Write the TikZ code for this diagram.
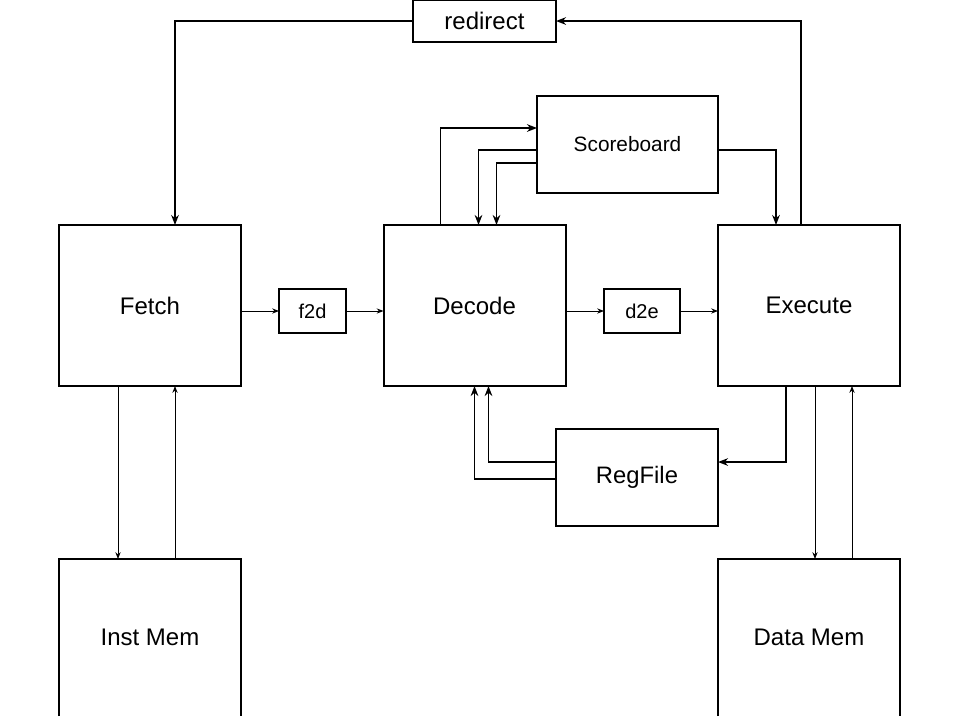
\documentclass[tikz,border=0pt]{standalone}
\usepackage{fontspec}
\setmainfont{Liberation Sans}
\usetikzlibrary{arrows.meta}

\begin{document}
\begin{tikzpicture}[
        x=0.5pt, y=-0.5pt,
        stagebox/.style={rectangle,draw,line width=1pt,inner sep=0pt,outer sep=0pt,minimum width=91pt,minimum height=80.5pt,font=\fontsize{12}{14}\selectfont},
        unitbox/.style={rectangle,draw,line width=1pt,inner sep=0pt,outer sep=0pt,minimum width=81pt,minimum height=48.5pt,font=\fontsize{10.4}{12}\selectfont},
        latchbox/.style={rectangle,draw,line width=1pt,inner sep=0pt,outer sep=0pt,minimum height=22pt,font=\fontsize{10}{12}\selectfont},
        membox/.style={rectangle,inner sep=0pt,outer sep=0pt,minimum width=91pt,minimum height=78.5pt,font=\fontsize{12}{14}\selectfont},
        conn/.style={line width=0.75pt,-{Stealth[length=5pt,width=3.8pt,inset=1.6pt]}},
        thinconn/.style={line width=0.45pt,-{Stealth[length=3.4pt,width=2.6pt,inset=1.1pt]}},
        ]
        \useasboundingbox (0,0) rectangle (960,720);

        \node[stagebox](fetch) at (150,305.5){Fetch};
        \node[stagebox](decode) at (474.5,305.5){Decode};
        \node[stagebox](execute) at (809,305.5){Execute};
        \node[latchbox, minimum width=33.5pt](f2d) at (312.5,311){f2d};
        \node[latchbox, minimum width=38pt](d2e) at (642,311){d2e};
        \node[latchbox, minimum width=71.5pt, minimum height=21pt, font=\fontsize{12}{14}\selectfont](redirect) at (484.5,21){redirect};
        \node[unitbox, minimum width=90.5pt](scoreboard) at (627.5,144.5){Scoreboard};
        \node[unitbox, font=\fontsize{11.9}{14}\selectfont](regfile) at (637,477.5){RegFile};
        \node[membox](imem) at (150,637.5){Inst Mem};
        \node[membox](dmem) at (809,637.5){Data Mem};

        % memories are open at the bottom
        \draw[line width=0.9pt] (imem.south west) -- (imem.north west) -- (imem.north east) -- (imem.south east);
        \draw[line width=0.9pt] (dmem.south west) -- (dmem.north west) -- (dmem.north east) -- (dmem.south east);

        % pipeline
        \draw[thinconn] (fetch.east |- f2d.west) -- (f2d.west);
        \draw[thinconn] (f2d.east) -- (f2d.east -| decode.west);
        \draw[thinconn] (decode.east |- d2e.west) -- (d2e.west);
        \draw[thinconn] (d2e.east) -- (d2e.east -| execute.west);

        % redirect loop
        \draw[conn] ([xshift=41.5pt]execute.north west) |- (redirect.east);
        \draw[conn] (redirect.west) -| ([xshift=58pt]fetch.north west);

        % scoreboard
        \draw[conn] ([xshift=28.5pt]decode.north west) |- ([yshift=-16pt]scoreboard.north west);
        \draw[conn] ([yshift=-27pt]scoreboard.north west) -| ([xshift=47.5pt]decode.north west);
        \draw[conn] ([yshift=-33.5pt]scoreboard.north west) -| ([xshift=56.5pt]decode.north west);
        \draw[conn] ([yshift=-27pt]scoreboard.north east) -| ([xshift=29pt]execute.north west);

        % register file
        \draw[conn] ([xshift=34pt]execute.south west) |- ([yshift=-16.5pt]regfile.north east);
        \draw[conn] ([yshift=-16.5pt]regfile.north west) -| ([xshift=52.5pt]decode.south west);
        \draw[conn] ([yshift=-25pt]regfile.north west) -| ([xshift=45.5pt]decode.south west);

        % memories
        \draw[thinconn] ([xshift=29.5pt]fetch.south west) -- ([xshift=29.5pt]imem.north west);
        \draw[thinconn] ([xshift=58pt]imem.north west) -- ([xshift=58pt]fetch.south west);
        \draw[thinconn] ([xshift=48.5pt]execute.south west) -- ([xshift=48.5pt]dmem.north west);
        \draw[thinconn] ([xshift=67pt]dmem.north west) -- ([xshift=67pt]execute.south west);

        \end{tikzpicture}
\end{document}
